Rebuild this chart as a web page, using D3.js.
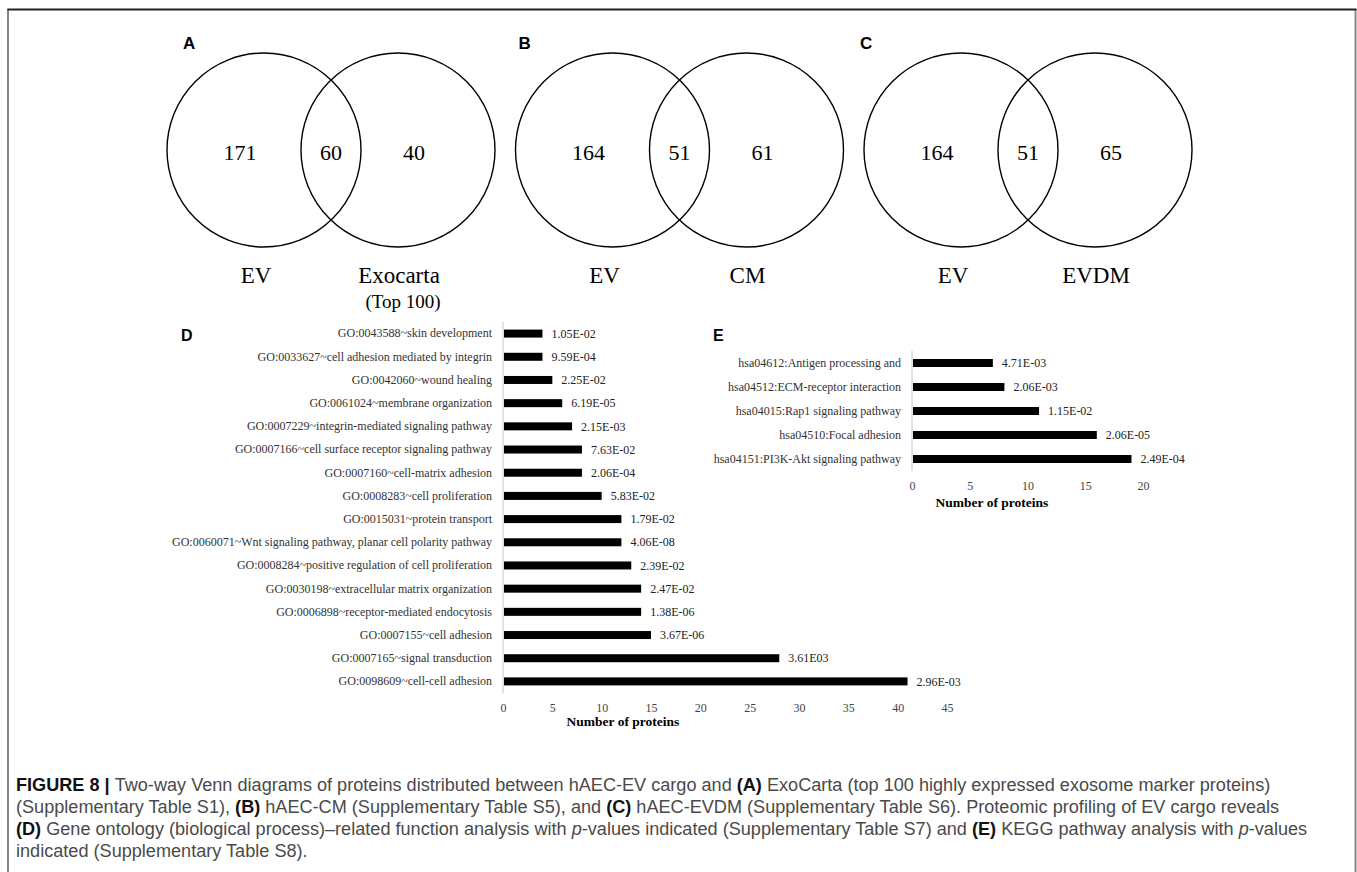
<!DOCTYPE html>
<html><head><meta charset="utf-8">
<script src="https://cdn.jsdelivr.net/npm/d3@7"></script>
<style>body{margin:0;background:#fff} svg{display:block}</style>
</head><body><svg id="c" width="1357" height="872"></svg>
<script>
// ---------- data ----------
const vennPanels = ["A", "B", "C"];
const vennLeftNames = ["EV", "EV", "EV"];
const vennRightNames = ["Exocarta", "CM", "EVDM"];
const vennRightSub = ["(Top 100)", "", ""];
const vennLeftOnly = [171, 164, 164];
const vennShared = [60, 51, 51];
const vennRightOnly = [40, 61, 65];

const goTerms = [
  "GO:0043588~skin development",
  "GO:0033627~cell adhesion mediated by integrin",
  "GO:0042060~wound healing",
  "GO:0061024~membrane organization",
  "GO:0007229~integrin-mediated signaling pathway",
  "GO:0007166~cell surface receptor signaling pathway",
  "GO:0007160~cell-matrix adhesion",
  "GO:0008283~cell proliferation",
  "GO:0015031~protein transport",
  "GO:0060071~Wnt signaling pathway, planar cell polarity pathway",
  "GO:0008284~positive regulation of cell proliferation",
  "GO:0030198~extracellular matrix organization",
  "GO:0006898~receptor-mediated endocytosis",
  "GO:0007155~cell adhesion",
  "GO:0007165~signal transduction",
  "GO:0098609~cell-cell adhesion"
];
const goCounts = [4, 4, 5, 6, 7, 8, 8, 10, 12, 12, 13, 14, 14, 15, 28, 41];
const goPValues = ["1.05E-02", "9.59E-04", "2.25E-02", "6.19E-05", "2.15E-03", "7.63E-02", "2.06E-04", "5.83E-02",
  "1.79E-02", "4.06E-08", "2.39E-02", "2.47E-02", "1.38E-06", "3.67E-06", "3.61E03", "2.96E-03"];
const goTicks = [0, 5, 10, 15, 20, 25, 30, 35, 40, 45];

const keggTerms = [
  "hsa04612:Antigen processing and",
  "hsa04512:ECM-receptor interaction",
  "hsa04015:Rap1 signaling pathway",
  "hsa04510:Focal adhesion",
  "hsa04151:PI3K-Akt signaling pathway"
];
const keggCounts = [7, 8, 11, 16, 19];
const keggPValues = ["4.71E-03", "2.06E-03", "1.15E-02", "2.06E-05", "2.49E-04"];
const keggTicks = [0, 5, 10, 15, 20];

const axisTitle = "Number of proteins";

const captionLines = [
  [["b", "FIGURE 8 | "], ["", "Two-way Venn diagrams of proteins distributed between hAEC-EV cargo and "], ["b", "(A)"], ["", " ExoCarta (top 100 highly expressed exosome marker proteins)"]],
  [["", "(Supplementary Table S1), "], ["b", "(B)"], ["", " hAEC-CM (Supplementary Table S5), and "], ["b", "(C)"], ["", " hAEC-EVDM (Supplementary Table S6). Proteomic profiling of EV cargo reveals"]],
  [["b", "(D)"], ["", " Gene ontology (biological process)\u2013related function analysis with "], ["i", "p"], ["", "-values indicated (Supplementary Table S7) and "], ["b", "(E)"], ["", " KEGG pathway analysis with "], ["i", "p"], ["", "-values"]],
  [["", "indicated (Supplementary Table S8)."]]
];

// ---------- drawing ----------
const SERIF = "'Liberation Serif','Times New Roman',serif";
const SANS = "'Liberation Sans',Arial,Helvetica,sans-serif";
const svg = d3.select("#c");

// frame
svg.append("line").attr("x1", 8).attr("x2", 8).attr("y1", 9).attr("y2", 872).attr("stroke", "#444").attr("stroke-width", 1.3);
svg.append("line").attr("x1", 1355.5).attr("x2", 1355.5).attr("y1", 9).attr("y2", 872).attr("stroke", "#8a8a8a").attr("stroke-width", 2);
svg.append("line").attr("x1", 7.5).attr("x2", 1356.5).attr("y1", 9.5).attr("y2", 9.5).attr("stroke", "#222").attr("stroke-width", 1.8);

// ---------- Venn ----------
const venn = vennPanels.map((p, i) => ({
  panel: p, left: vennLeftNames[i], right: vennRightNames[i], sub: vennRightSub[i],
  a: vennLeftOnly[i], ab: vennShared[i], b: vennRightOnly[i]
}));
const px = d3.scalePoint().domain(vennPanels).range([264, 961]);
const R = 97, OFF = 134, CY = 150;
const letterOffset = {A: -81, B: -94, C: -101};
const vg = svg.append("g").selectAll("g").data(venn).join("g")
  .attr("transform", d => `translate(${px(d.panel)},0)`);
vg.append("circle").attr("cx", 0).attr("cy", CY).attr("r", R).attr("fill", "none").attr("stroke", "#000").attr("stroke-width", 1.4);
vg.append("circle").attr("cx", OFF).attr("cy", CY).attr("r", R).attr("fill", "none").attr("stroke", "#000").attr("stroke-width", 1.4);
vg.append("text").attr("x", d => letterOffset[d.panel]).attr("y", 49).text(d => d.panel)
  .attr("font-family", SANS).attr("font-weight", "bold").attr("font-size", 17);
const numStyle = s => s.attr("font-family", SERIF).attr("font-size", 22).attr("text-anchor", "middle").attr("y", 160);
vg.append("text").call(numStyle).attr("x", -24).text(d => d.a);
vg.append("text").call(numStyle).attr("x", OFF / 2).text(d => d.ab);
vg.append("text").call(numStyle).attr("x", OFF + 16).text(d => d.b);
const nameStyle = s => s.attr("font-family", SERIF).attr("font-size", 23).attr("text-anchor", "middle").attr("y", 283);
vg.append("text").call(nameStyle).attr("x", -8).text(d => d.left);
vg.append("text").call(nameStyle).attr("x", OFF + 1).text(d => d.right);
vg.append("text").attr("font-family", SERIF).attr("font-size", 19).attr("text-anchor", "middle")
  .attr("x", OFF + 5).attr("y", 308).text(d => d.sub);

// ---------- bar chart helper ----------
function barChart(opt) {
  const g = svg.append("g");
  const x = d3.scaleLinear().domain(opt.domain).range(opt.xRange);
  const y = d3.scaleBand().domain(opt.terms).range(opt.yRange).paddingInner(opt.pad).paddingOuter(opt.pad / 2);
  g.append("line").attr("x1", x(0)).attr("x2", x(0)).attr("y1", opt.yRange[0]).attr("y2", opt.yRange[1])
    .attr("stroke", "#d9d9d9").attr("stroke-width", 1.5);
  const rows = opt.terms.map((t, i) => ({t, v: opt.counts[i], p: opt.pvals[i]}));
  g.selectAll("rect").data(rows).join("rect")
    .attr("x", x(0) + 1).attr("y", d => y(d.t)).attr("width", d => x(d.v) - x(0) - 1).attr("height", y.bandwidth())
    .attr("fill", "#000");
  g.selectAll("text.pv").data(rows).join("text").attr("class", "pv")
    .attr("x", d => x(d.v) + 9).attr("y", d => y(d.t) + y.bandwidth() / 2).attr("dy", "0.35em")
    .attr("font-family", SERIF).attr("font-size", 12).attr("fill", "#222").text(d => d.p);
  const ya = g.append("g").attr("transform", `translate(${x(0)},0)`)
    .call(d3.axisLeft(y).tickSize(0).tickPadding(11));
  ya.select(".domain").remove();
  ya.selectAll("text").attr("font-family", SERIF).attr("font-size", 12).attr("fill", "#333");
  const xa = g.append("g").attr("transform", `translate(0,${opt.xAxisY})`)
    .call(d3.axisBottom(x).tickValues(opt.ticks).tickSize(0).tickPadding(3));
  xa.select(".domain").remove();
  xa.selectAll("text").attr("font-family", SERIF).attr("font-size", 12).attr("fill", "#444");
  g.append("text").attr("x", opt.titleX).attr("y", opt.titleY).attr("text-anchor", "middle")
    .attr("font-family", SERIF).attr("font-weight", "bold").attr("font-size", 13.5).text(axisTitle);
  g.append("text").attr("x", opt.letterX).attr("y", opt.letterY).text(opt.letter)
    .attr("font-family", SANS).attr("font-weight", "bold").attr("font-size", 16);
}

barChart({
  terms: goTerms, counts: goCounts, pvals: goPValues, ticks: goTicks,
  domain: [0, 45], xRange: [503, 947], yRange: [322, 693], pad: 0.655,
  xAxisY: 700, titleX: 623, titleY: 726, letter: "D", letterX: 181, letterY: 341
});
barChart({
  terms: keggTerms, counts: keggCounts, pvals: keggPValues, ticks: keggTicks,
  domain: [0, 20], xRange: [912, 1143], yRange: [351, 471], pad: 0.667,
  xAxisY: 478, titleX: 992, titleY: 507, letter: "E", letterX: 713, letterY: 341
});

// ---------- caption ----------
const cap = svg.append("g");
const lineEls = captionLines.map((segs, i) => {
  const t = cap.append("text").attr("x", 16).attr("y", 791 + i * 22)
    .attr("font-family", SANS).attr("font-size", 10).attr("fill", "#4a4a4a");
  segs.forEach(([k, s]) => {
    const ts = t.append("tspan").text(s);
    if (k === "b") ts.attr("font-weight", "bold").attr("fill", "#111");
    if (k === "i") ts.attr("font-style", "italic");
  });
  return t;
});
const w0 = lineEls[0].node().getComputedTextLength();
const fs = 10 * 1255 / w0;
lineEls.forEach(t => t.attr("font-size", fs));
</script></body></html>
